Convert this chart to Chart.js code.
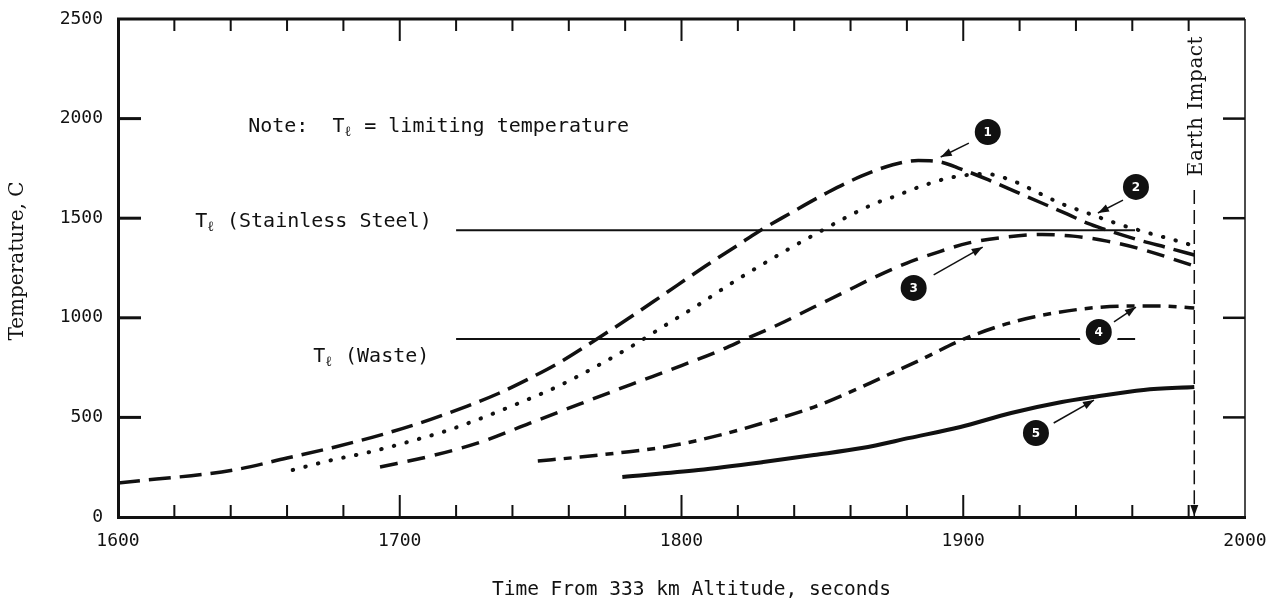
<!DOCTYPE html>
<html lang="en">
<head>
  <meta charset="UTF-8" />
  <title>Temperature vs Time From 333 km Altitude</title>
  <script src="https://cdn.jsdelivr.net/npm/chart.js"></script>
  <style>
    html, body { margin: 0; padding: 0; background: #fff; }
    #wrap { width: 1284px; height: 608px; }
  </style>
</head>
<body>
  <div id="wrap"><canvas id="tempChart" width="1284" height="608"></canvas></div>

  <script>
    // values: time (s) and temperature (C)
    const curve1Time = [1600, 1641, 1660, 1676, 1694, 1711, 1724, 1735, 1746, 1757, 1770, 1781, 1793, 1808, 1820, 1827, 1838, 1852, 1864, 1875, 1884, 1892, 1899, 1909, 1923, 1937, 1944, 1950, 1962, 1973, 1982];
    const curve1Temp = [171, 236, 296, 348, 415, 490, 557, 620, 695, 778, 894, 995, 1110, 1255, 1365, 1430, 1520, 1630, 1712, 1768, 1790, 1782, 1748, 1692, 1606, 1520, 1475, 1445, 1392, 1350, 1315];

    const curve2Time = [1662, 1676, 1689, 1705, 1716, 1726, 1742, 1756, 1769, 1783, 1795, 1806, 1819, 1828, 1838, 1847, 1858, 1869, 1875, 1885, 1896, 1908, 1918, 1927, 1935, 1944, 1955, 1967, 1976, 1981];
    const curve2Temp = [236, 286, 325, 385, 430, 480, 570, 655, 750, 863, 969, 1065, 1185, 1262, 1345, 1416, 1501, 1576, 1606, 1660, 1705, 1722, 1685, 1625, 1572, 1526, 1471, 1421, 1386, 1365];

    const curve3Time = [1693, 1711, 1729, 1746, 1764, 1782, 1800, 1814, 1823, 1835, 1847, 1858, 1868, 1880, 1890, 1902, 1915, 1928, 1939, 1951, 1963, 1981];
    const curve3Temp = [251, 306, 377, 470, 568, 665, 760, 838, 895, 970, 1054, 1130, 1200, 1275, 1325, 1376, 1405, 1418, 1410, 1385, 1345, 1265];

    const curve4Time = [1749, 1764, 1777, 1794, 1811, 1829, 1847, 1864, 1875, 1885, 1898, 1911, 1925, 1942, 1958, 1970, 1982];
    const curve4Temp = [281, 301, 321, 351, 402, 472, 552, 653, 725, 790, 880, 950, 1004, 1044, 1059, 1059, 1049];

    const curve5Time = [1779, 1806, 1829, 1847, 1864, 1881, 1899, 1917, 1935, 1946, 1964, 1982];
    const curve5Temp = [201, 236, 276, 311, 346, 397, 452, 522, 577, 602, 638, 653];

    const limitTime = [1720, 1961];
    const stainlessLimit = 1440;
    const wasteLimit = 894;
    const impactTime = 1982;
    const impactTemp = [1641, 0];

    const xTicks = [1600, 1700, 1800, 1900, 2000];
    const yTicks = [0, 500, 1000, 1500, 2000, 2500];

    // numbered callouts: circle centre, arrow start, arrow tip (data coords)
    const callouts = [
      { n: "1", c: [1908.7, 1933], from: [1902, 1877], to: [1892, 1807], halo: 0 },
      { n: "2", c: [1961.3, 1657], from: [1956.7, 1591], to: [1947.8, 1526], halo: 0 },
      { n: "3", c: [1882.4, 1150], from: [1889.5, 1215], to: [1906.9, 1355], halo: 0 },
      { n: "4", c: [1948.1, 929], from: [1953.5, 979], to: [1961.3, 1054], halo: 20 },
      { n: "5", c: [1925.8, 422], from: [1932.1, 472], to: [1946.4, 587], halo: 0 }
    ];

    const pts = (ts, vs) => ts.map((t, i) => ({ x: t, y: vs[i] }));
    const mono = '"DejaVu Sans Mono", monospace';
    const serif = '"DejaVu Serif", serif';

    function line(data, width, dash, cap) {
      return {
        data: data,
        borderColor: "#111",
        borderWidth: width,
        borderDash: dash || [],
        borderCapStyle: cap || "butt",
        pointRadius: 0,
        fill: false,
        cubicInterpolationMode: "monotone"
      };
    }

    function arrowHead(ctx, x0, y0, x1, y1, len, half) {
      const ang = Math.atan2(y1 - y0, x1 - x0);
      ctx.beginPath();
      ctx.moveTo(x1, y1);
      ctx.lineTo(x1 - len * Math.cos(ang) + half * Math.sin(ang), y1 - len * Math.sin(ang) - half * Math.cos(ang));
      ctx.lineTo(x1 - len * Math.cos(ang) - half * Math.sin(ang), y1 - len * Math.sin(ang) + half * Math.cos(ang));
      ctx.closePath();
      ctx.fill();
    }

    // T with a script-l subscript, then the rest of the text
    function drawTl(ctx, x, y, before, after) {
      ctx.font = "20px " + mono;
      ctx.textAlign = "left";
      ctx.textBaseline = "middle";
      ctx.fillText(before + "T", x, y);
      let cx = x + ctx.measureText(before + "T").width;
      ctx.font = "14px " + mono;
      ctx.fillText("ℓ", cx, y + 5);
      cx += ctx.measureText("ℓ").width + 1;
      ctx.font = "20px " + mono;
      ctx.fillText(after, cx, y);
    }

    const paperFrame = {
      id: "paperFrame",
      afterDraw(chart) {
        const { ctx, chartArea: a, scales: { x, y } } = chart;
        ctx.save();
        ctx.strokeStyle = "#111";
        ctx.fillStyle = "#111";

        // top and right frame
        ctx.lineWidth = 3;
        ctx.beginPath();
        ctx.moveTo(a.left - 1, a.top);
        ctx.lineTo(a.right, a.top);
        ctx.stroke();
        ctx.lineWidth = 1.5;
        ctx.beginPath();
        ctx.moveTo(a.right, a.top);
        ctx.lineTo(a.right, a.bottom);
        ctx.stroke();

        // inward ticks
        for (let t = 1620; t < 2000; t += 20) {
          const px = x.getPixelForValue(t);
          const len = t % 100 === 0 ? 22 : 12;
          ctx.lineWidth = 2;
          ctx.beginPath();
          ctx.moveTo(px, a.top); ctx.lineTo(px, a.top + len);
          ctx.moveTo(px, a.bottom); ctx.lineTo(px, a.bottom - len);
          ctx.stroke();
        }
        [500, 1000, 1500, 2000].forEach(v => {
          const py = y.getPixelForValue(v);
          ctx.lineWidth = 3;
          ctx.beginPath();
          ctx.moveTo(a.left, py); ctx.lineTo(a.left + 23, py);
          ctx.stroke();
          ctx.lineWidth = 2.5;
          ctx.beginPath();
          ctx.moveTo(a.right, py); ctx.lineTo(a.right - 22, py);
          ctx.stroke();
        });

        // axis titles
        ctx.font = "19.5px " + mono;
        ctx.textAlign = "center";
        ctx.textBaseline = "middle";
        ctx.fillText("Time From 333 km Altitude, seconds", (a.left + a.right) / 2 + 10, a.bottom + 73);

        ctx.save();
        ctx.translate(18, (a.top + a.bottom) / 2 - 7);
        ctx.rotate(-Math.PI / 2);
        ctx.font = "20px " + serif;
        ctx.fillText("Temperature, C", 0, 0);
        ctx.restore();

        // earth impact label and arrow
        ctx.save();
        ctx.translate(x.getPixelForValue(impactTime) + 3, y.getPixelForValue(2063));
        ctx.rotate(-Math.PI / 2);
        ctx.font = "20px " + serif;
        ctx.letterSpacing = "0.5px";
        ctx.fillText("Earth Impact", 0, 0);
        ctx.restore();
        const ix = x.getPixelForValue(impactTime);
        arrowHead(ctx, ix, a.bottom - 30, ix, a.bottom - 1, 11, 4);

        // notes
        drawTl(ctx, x.getPixelForValue(1646.2), y.getPixelForValue(1958), "Note:  ", " = limiting temperature");
        drawTl(ctx, x.getPixelForValue(1627.4), y.getPixelForValue(1481), "", " (Stainless Steel)");
        drawTl(ctx, x.getPixelForValue(1669.3), y.getPixelForValue(803), "", " (Waste)");

        // callouts
        callouts.forEach(c => {
          const cx = x.getPixelForValue(c.c[0]), cy = y.getPixelForValue(c.c[1]);
          const fx = x.getPixelForValue(c.from[0]), fy = y.getPixelForValue(c.from[1]);
          const tx = x.getPixelForValue(c.to[0]), ty = y.getPixelForValue(c.to[1]);
          if (c.halo) {
            ctx.fillStyle = "#fff";
            ctx.beginPath();
            ctx.arc(cx, cy, c.halo, 0, Math.PI * 2);
            ctx.fill();
          }
          ctx.fillStyle = "#111";
          ctx.lineWidth = 1.5;
          ctx.beginPath();
          ctx.moveTo(fx, fy); ctx.lineTo(tx, ty);
          ctx.stroke();
          arrowHead(ctx, fx, fy, tx, ty, 11, 4);
          ctx.beginPath();
          ctx.arc(cx, cy, 13, 0, Math.PI * 2);
          ctx.fill();
          ctx.fillStyle = "#fff";
          ctx.font = "bold 12px " + '"DejaVu Sans", sans-serif';
          ctx.textAlign = "center";
          ctx.textBaseline = "middle";
          ctx.fillText(c.n, cx, cy + 1);
          ctx.fillStyle = "#111";
        });

        ctx.restore();
      }
    };

    new Chart(document.getElementById("tempChart"), {
      type: "line",
      data: {
        datasets: [
          line(pts(limitTime, [stainlessLimit, stainlessLimit]), 2),
          line(pts(limitTime, [wasteLimit, wasteLimit]), 2),
          line(pts(curve1Time, curve1Temp), 3.5, [22, 9]),
          line(pts(curve2Time, curve2Temp), 4, [0.5, 12.5], "round"),
          line(pts(curve3Time, curve3Temp), 3.5, [18, 10]),
          line(pts(curve4Time, curve4Temp), 3.5, [18, 8, 8, 8]),
          line(pts(curve5Time, curve5Temp), 4),
          line(pts([impactTime, impactTime], impactTemp), 1.5, [14, 6])
        ]
      },
      options: {
        responsive: false,
        animation: false,
        layout: { padding: { top: 19, right: 39, left: 0, bottom: 0 } },
        plugins: { legend: { display: false }, tooltip: { enabled: false } },
        scales: {
          x: {
            type: "linear",
            min: 1600,
            max: 2000,
            afterBuildTicks: s => { s.ticks = xTicks.map(v => ({ value: v })); },
            afterFit: s => { s.height = 91; s.paddingLeft = 0; s.paddingRight = 0; },
            grid: { display: false, drawTicks: false, tickLength: 0 },
            border: { display: true, width: 3, color: "#111" },
            ticks: {
              color: "#111",
              padding: 14,
              maxRotation: 0,
              font: { family: mono, size: 18 },
              callback: v => String(v)
            }
          },
          y: {
            min: 0,
            max: 2500,
            afterBuildTicks: s => { s.ticks = yTicks.map(v => ({ value: v })); },
            afterFit: s => { s.width = 118; s.paddingTop = 0; s.paddingBottom = 0; },
            grid: { display: false, drawTicks: false, tickLength: 0 },
            border: { display: true, width: 3, color: "#111" },
            ticks: {
              color: "#111",
              padding: 15,
              font: { family: mono, size: 18 },
              callback: v => String(v)
            }
          }
        }
      },
      plugins: [paperFrame]
    });
  </script>
</body>
</html>
